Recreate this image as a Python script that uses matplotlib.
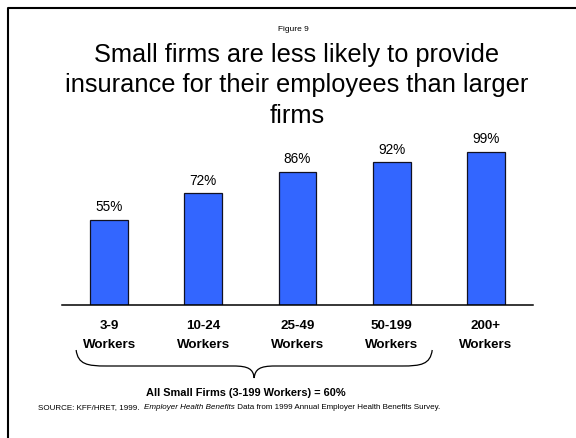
import matplotlib
matplotlib.use("Agg")
import matplotlib.pyplot as plt
import matplotlib.transforms as mtransforms
from matplotlib.lines import Line2D
from matplotlib.patches import PathPatch
from matplotlib.path import Path

plt.rcParams["font.family"] = ["Liberation Sans", "DejaVu Sans"]

# Coverage rates by firm size (1999)
size_ranges = ["3-9", "10-24", "25-49", "50-199", "200+"]
offer_pct = [55, 72, 86, 92, 99]
small_firm_pct = 60

title_lines = [
    "Small firms are less likely to provide",
    "insurance for their employees than larger",
    "firms",
]

W, H = 576, 438
DPI = 100
BAR_COLOR = "#3366FF"


def fxy(x, y):
    """pixel position (from top-left) -> figure fraction"""
    return x / W, 1 - y / H


fig = plt.figure(figsize=(W / DPI, H / DPI), dpi=DPI)
fig.patch.set_facecolor("white")

# slide frame (top and left edges only)
fig.add_artist(Line2D([7.5 / W, 7.5 / W, 1.0], [0.0, 1 - 7.5 / H, 1 - 7.5 / H],
                      transform=fig.transFigure, color="black", lw=1.5))

fig.text(*fxy(293, 31), "Figure 9", ha="center", va="baseline", fontsize=6)
for yb, line in zip([62, 92, 123], title_lines):
    fig.text(*fxy(297, yb), line, ha="center", va="baseline", fontsize=18.3)

ax = fig.add_axes([62 / W, (H - 305) / H, 471 / W, 155 / H])
xs = list(range(len(size_ranges)))
bars = ax.bar(xs, offer_pct, width=0.40, color=BAR_COLOR,
              edgecolor="#111122", linewidth=0.9, zorder=2)
ax.set_xlim(-0.5, len(size_ranges) - 0.5)
ax.set_ylim(0, 100)

for spine in ["top", "right", "left"]:
    ax.spines[spine].set_visible(False)
ax.spines["bottom"].set_linewidth(1.1)
ax.set_yticks([])
ax.set_xticks([])

for x, v in zip(xs, offer_pct):
    ax.annotate(f"{v}%", xy=(x, v), xytext=(0, 6), textcoords="offset points",
                ha="center", va="baseline", fontsize=9.8, annotation_clip=False)

mixed = mtransforms.blended_transform_factory(ax.transData, ax.transAxes)
for x, rng in zip(xs, size_ranges):
    ax.text(x, -24.3 / 155, rng, transform=mixed, ha="center", va="baseline",
            fontsize=9.6, fontweight="bold")
    ax.text(x, -43.3 / 155, "Workers", transform=mixed, ha="center",
            va="baseline", fontsize=9.6, fontweight="bold")

# curly brace under the small-firm categories
x0, x1 = -0.35, 3.43
xm = (x0 + x1) / 2
y_top, y_flat, y_tip = -45 / 155, -61 / 155, -73 / 155
verts = [
    (x0, y_top), (x0 + 0.02, y_flat + 0.01), (x0 + 0.12, y_flat), (x0 + 0.32, y_flat),
    (xm - 0.22, y_flat),
    (xm - 0.06, y_flat), (xm - 0.01, y_flat - 0.02), (xm, y_tip),
    (xm + 0.01, y_flat - 0.02), (xm + 0.06, y_flat), (xm + 0.22, y_flat),
    (x1 - 0.32, y_flat),
    (x1 - 0.12, y_flat), (x1 - 0.02, y_flat + 0.01), (x1, y_top),
]
codes = [Path.MOVETO, Path.CURVE4, Path.CURVE4, Path.CURVE4,
         Path.LINETO,
         Path.CURVE4, Path.CURVE4, Path.CURVE4,
         Path.CURVE4, Path.CURVE4, Path.CURVE4,
         Path.LINETO,
         Path.CURVE4, Path.CURVE4, Path.CURVE4]
ax.add_patch(PathPatch(Path(verts, codes), transform=mixed, fill=False,
                       edgecolor="black", lw=0.9, clip_on=False))

fig.text(*fxy(246, 396.5),
         f"All Small Firms (3-199 Workers) = {small_firm_pct}%",
         ha="center", va="baseline", fontsize=7.9, fontweight="bold")

t1 = fig.text(*fxy(38.5, 409), "SOURCE: KFF/HRET, 1999.  ", ha="left",
              va="baseline", fontsize=5.8)
t2 = fig.text(0, 0, "Employer Health Benefits", fontsize=5.8, style="italic",
              ha="left", va="baseline")
t3 = fig.text(0, 0, " Data from 1999 Annual Employer Health Benefits Survey.",
              fontsize=5.8, ha="left", va="baseline")

# chain the source pieces along one baseline
renderer = fig.canvas.get_renderer()
prev = t1
for t in (t2, t3):
    bb = prev.get_window_extent(renderer)
    xr = bb.x1 / fig.bbox.width
    t.set_position((xr, prev.get_position()[1]))
    prev = t

fig.savefig("out.png", dpi=DPI, facecolor="white")
